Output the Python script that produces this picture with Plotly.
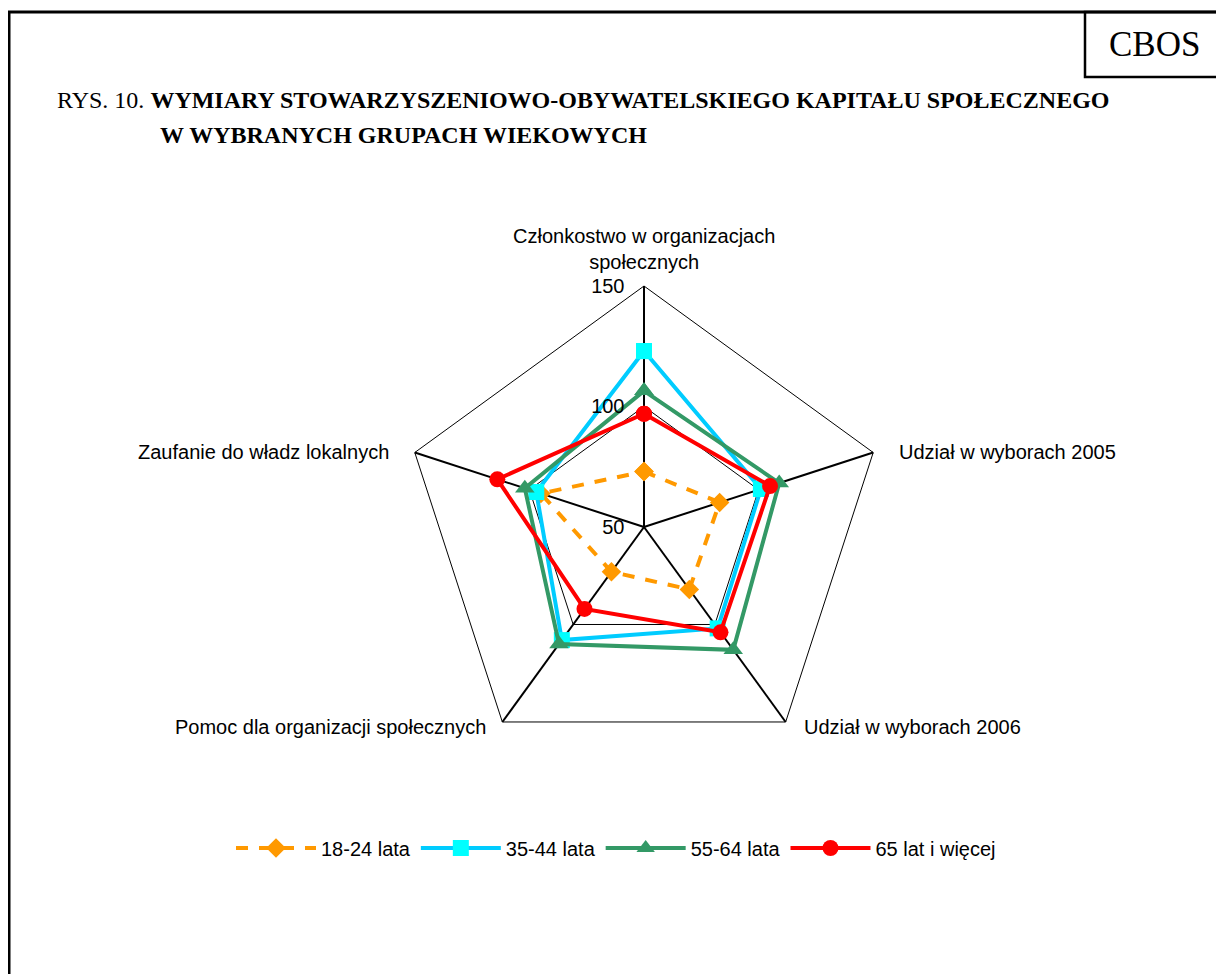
import plotly.graph_objects as go

categories = [
    "Członkostwo w organizacjach<br>społecznych",
    "Udział w wyborach 2005",
    "Udział w wyborach 2006",
    "Pomoc dla organizacji społecznych",
    "Zaufanie do władz lokalnych",
]
series_names = ["18-24 lata", "35-44 lata", "55-64 lata", "65 lat i więcej"]
v_18_24 = [73, 83, 82, 73, 95]
v_35_44 = [123, 101, 102, 108, 97]
v_55_64 = [106.5, 109, 113, 110, 102]
v_65 = [97, 105, 104, 92, 114]
radial_ticks = [50, 100, 150]

W, H = 1224, 974
OFF = 8  # page body margin
cx, cy, R = 644, 527, 241

# category label placement (page pixels): x, y, xanchor, yanchor
label_pos = [
    (644, 275, "center", "bottom"),
    (897, 452, "left", "middle"),
    (802, 727, "left", "middle"),
    (488, 727, "right", "middle"),
    (391, 452, "right", "middle"),
]

styles = [
    dict(line=dict(color="#FF9900", width=4, dash="12px,11px"),
         marker=dict(symbol="diamond", size=15, color="#FF9900")),
    dict(line=dict(color="#00CCFF", width=4),
         marker=dict(symbol="square", size=16, color="#00FFFF")),
    dict(line=dict(color="#339966", width=4),
         marker=dict(symbol="triangle-up", size=17, color="#339966")),
    dict(line=dict(color="#FF0000", width=4),
         marker=dict(symbol="circle", size=16, color="#FF0000")),
]

fig = go.Figure()
for name, vals, st in zip(series_names, [v_18_24, v_35_44, v_55_64, v_65], styles):
    fig.add_trace(go.Scatterpolar(
        r=vals + vals[:1],
        theta=categories + categories[:1],
        mode="lines+markers",
        name=name,
        line=st["line"],
        marker=st["marker"],
    ))


def px(x):
    return (x - OFF) / W


def py(y):
    return 1 - (y - OFF) / H


SANS = "Liberation Sans, Arial, sans-serif"
SERIF = "Liberation Serif, Times New Roman, serif"

annotations = [
    dict(text="CBOS", xref="paper", yref="paper", x=px(1154), y=py(45),
         xanchor="center", yanchor="middle", showarrow=False,
         font=dict(family=SERIF, size=35, color="black")),
    dict(text="RYS. 10. <b>WYMIARY STOWARZYSZENIOWO-OBYWATELSKIEGO KAPITAŁU SPOŁECZNEGO</b>",
         xref="paper", yref="paper", x=px(55), y=py(100),
         xanchor="left", yanchor="middle", showarrow=False,
         font=dict(family=SERIF, size=24, color="black")),
    dict(text="<b>W WYBRANYCH GRUPACH WIEKOWYCH</b>",
         xref="paper", yref="paper", x=px(158), y=py(135),
         xanchor="left", yanchor="middle", showarrow=False,
         font=dict(family=SERIF, size=24, color="black")),
]
for cat, (lx, ly, xa, ya) in zip(categories, label_pos):
    annotations.append(dict(
        text=cat, xref="paper", yref="paper", x=px(lx), y=py(ly),
        xanchor=xa, yanchor=ya, showarrow=False, align="center",
        font=dict(family=SANS, size=20, color="black"),
    ))

fig.update_layout(
    width=W, height=H,
    margin=dict(l=0, r=0, t=0, b=0),
    paper_bgcolor="white",
    plot_bgcolor="white",
    font=dict(family=SANS, size=20, color="black"),
    polar=dict(
        domain=dict(x=[px(cx - R), px(cx + R)], y=[py(cy + R), py(cy - R)]),
        bgcolor="white",
        gridshape="linear",
        angularaxis=dict(
            type="category",
            direction="clockwise",
            rotation=90,
            showgrid=True, gridcolor="black", gridwidth=2,
            showline=True, linecolor="black", linewidth=1,
            ticks="",
            showticklabels=False,
        ),
        radialaxis=dict(
            range=[50, 150],
            tickvals=radial_ticks,
            ticktext=[str(t) for t in radial_ticks],
            angle=90,
            tickangle=90,
            side="counterclockwise",
            showline=False,
            showgrid=True, gridcolor="black", gridwidth=1,
            ticks="outside", ticklen=12, tickcolor="rgba(0,0,0,0)",
            tickfont=dict(size=20, family=SANS),
        ),
    ),
    showlegend=True,
    legend=dict(
        orientation="h",
        x=px(616), xanchor="center",
        y=py(848), yanchor="middle",
        font=dict(size=20, family=SANS),
        itemwidth=80,
        traceorder="normal",
    ),
    shapes=[
        dict(type="line", xref="paper", yref="paper", x0=px(8), x1=px(1240), y0=py(12), y1=py(12),
             line=dict(color="black", width=3)),
        dict(type="line", xref="paper", yref="paper", x0=px(9), x1=px(9), y0=py(12), y1=py(990),
             line=dict(color="black", width=3)),
        dict(type="rect", xref="paper", yref="paper", x0=px(1085), x1=px(1240), y0=py(12), y1=py(77),
             line=dict(color="black", width=2.5), fillcolor="rgba(0,0,0,0)"),
    ],
    annotations=annotations,
)

fig.write_html("out.html")
